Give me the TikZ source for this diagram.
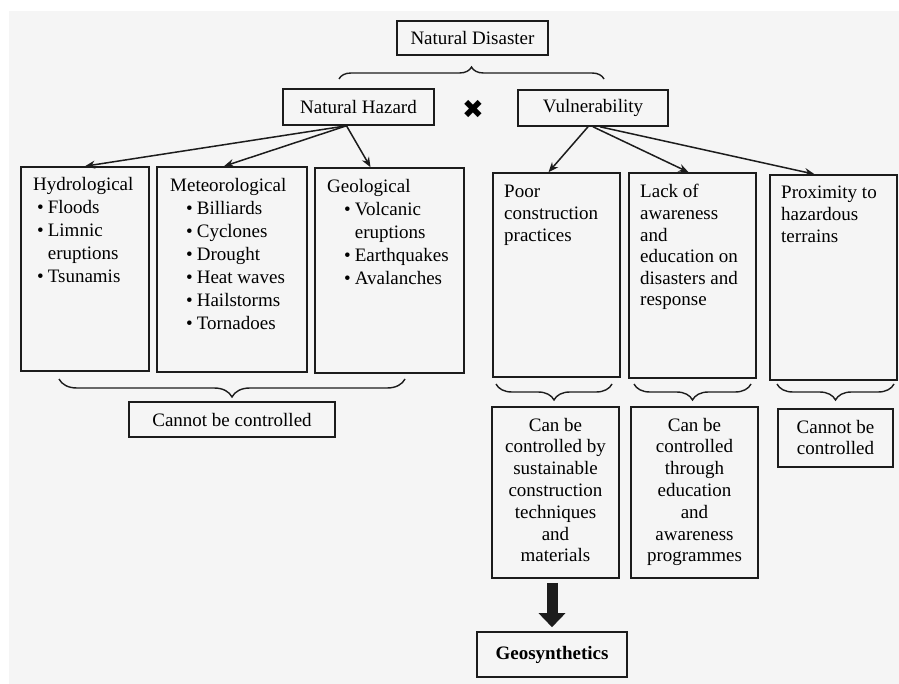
\documentclass[tikz,border=0pt]{standalone}
\usepackage{fontspec}
\setmainfont{Liberation Serif}
\newfontfamily\dejavu{DejaVu Sans}
\usetikzlibrary{arrows.meta, decorations.pathreplacing}
\definecolor{bgc}{HTML}{F5F5F5}
\definecolor{ink}{HTML}{1C1C1C}
\newcommand{\bul}{\textbullet\hspace{4pt}}
\newcommand{\nobul}{\phantom{\textbullet}\hspace{4pt}}
\tikzstyle{box}=[draw=ink, line width=1.6pt, inner sep=0pt, font=\fontsize{19}{23}\selectfont]
\tikzstyle{txt}=[inner sep=0pt, anchor=base west, font=\fontsize{19}{23}\selectfont]
\tikzstyle{txtb}=[inner sep=0pt, anchor=base west, font=\fontsize{19}{21.6}\selectfont]
\tikzstyle{ctr}=[inner sep=0pt, anchor=base, font=\fontsize{19}{21.8}\selectfont]
\tikzstyle{brc}=[draw=ink, line width=1.4pt, decorate, decoration={brace, amplitude=16pt}]
\tikzstyle{arr}=[draw=ink, line width=1.5pt, -{Stealth[length=10pt, width=8pt]}]
\tikzset{>=stealth}

\begin{document}
\begin{tikzpicture}[x=1pt, y=-1pt]
\useasboundingbox (0,0) rectangle (899,684);
\fill[bgc] (9,11) rectangle (899,684);
\node[box, minimum width=151, minimum height=34] (dis) at (472.5,38) {Natural Disaster};
\node[box, minimum width=151, minimum height=36] (haz) at (358.5,107) {Natural Hazard};
\node[box, minimum width=150, minimum height=36] (vul) at (593,108) {Vulnerability};
\node[font=\dejavu\fontsize{26}{26}\selectfont, inner sep=0pt] (times) at (473,109) {✖};
\node[box, minimum width=128, minimum height=204] (hydro) at (85,269) {};
\node[box, minimum width=150, minimum height=205] (meteo) at (232,269.5) {};
\node[box, minimum width=149, minimum height=205] (geo) at (389.5,270.5) {};
\node[box, minimum width=127, minimum height=204] (poor) at (556.5,275) {};
\node[box, minimum width=127, minimum height=205] (lack) at (692.5,275.5) {};
\node[box, minimum width=127, minimum height=205] (prox) at (833.5,277.5) {};
\node[txt] (hydrotxt) at (33,191) {\begin{tabular}[t]{@{}l@{}}Hydrological\\
  \hspace{4pt}\bul Floods\\ \hspace{4pt}\bul Limnic\\ \hspace{4pt}\nobul eruptions\\ \hspace{4pt}\bul Tsunamis\end{tabular}};
\node[txt] (meteotxt) at (170,192) {\begin{tabular}[t]{@{}l@{}}Meteorological\\
  \hspace{16pt}\bul Billiards\\ \hspace{16pt}\bul Cyclones\\ \hspace{16pt}\bul Drought\\
  \hspace{16pt}\bul Heat waves\\ \hspace{16pt}\bul Hailstorms\\ \hspace{16pt}\bul Tornadoes\end{tabular}};
\node[txt] (geotxt) at (327,193) {\begin{tabular}[t]{@{}l@{}}Geological\\
  \hspace{17pt}\bul Volcanic\\ \hspace{17pt}\nobul eruptions\\ \hspace{17pt}\bul Earthquakes\\ \hspace{17pt}\bul Avalanches\end{tabular}};
\node[txtb] (poortxt) at (504,198) {\begin{tabular}[t]{@{}l@{}}Poor\\construction\\practices\end{tabular}};
\node[txtb] (lacktxt) at (640,198) {\begin{tabular}[t]{@{}l@{}}Lack of\\awareness\\and\\education on\\disasters and\\response\end{tabular}};
\node[txtb] (proxtxt) at (781,199) {\begin{tabular}[t]{@{}l@{}}Proximity to\\hazardous\\terrains\end{tabular}};
\node[box, minimum width=206, minimum height=35] (unc) at (232,419.5) {Cannot be controlled};
\node[box, minimum width=127, minimum height=171] (can1) at (555.5,492.5) {};
\node[box, minimum width=127, minimum height=171] (can2) at (694.5,492.5) {};
\node[box, minimum width=115, minimum height=58] (unc2) at (835.5,438) {};
\node[ctr] (can1txt) at (555.5,431) {\begin{tabular}[t]{@{}c@{}}Can be\\controlled by\\sustainable\\construction\\techniques\\and\\materials\end{tabular}};
\node[ctr] (can2txt) at (694.5,431) {\begin{tabular}[t]{@{}c@{}}Can be\\controlled\\through\\education\\and\\awareness\\programmes\end{tabular}};
\node[ctr] (unc2txt) at (835.5,433) {\begin{tabular}[t]{@{}c@{}}Cannot be\\controlled\end{tabular}};
\node[box, minimum width=150, minimum height=45, font=\fontsize{19}{23}\selectfont\bfseries] (gsyn) at (552,654.5) {Geosynthetics};
\draw[brc, decoration={amplitude=12pt}] (339,79) -- (604,79);
\draw[brc, decoration={amplitude=18pt}] (405,379) -- (59,379);
\draw[brc] (612,384) -- (496,384);
\draw[brc] (751,384) -- (634,384);
\draw[brc] (894,384) -- (777,384);
\draw[arr] ([xshift=-12pt]haz.south) -- (hydro.north);
\draw[arr] ([xshift=-12pt]haz.south) -- ([xshift=-8pt]meteo.north);
\draw[arr] ([xshift=-12pt]haz.south) -- ([xshift=-19pt]geo.north);
\draw[arr] ([xshift=-5pt]vul.south) -- ([xshift=-8pt]poor.north);
\draw[arr] (vul.south) -- ([xshift=-4pt]lack.north);
\draw[arr] ([xshift=7pt]vul.south) -- ([xshift=-19pt]prox.north);
\draw[draw=ink, line width=11pt, -{Triangle[length=14pt, width=26pt]}, shorten <=4pt, shorten >=4pt] (gsyn.north |- can1.south) -- (gsyn.north);
\end{tikzpicture}
\end{document}
